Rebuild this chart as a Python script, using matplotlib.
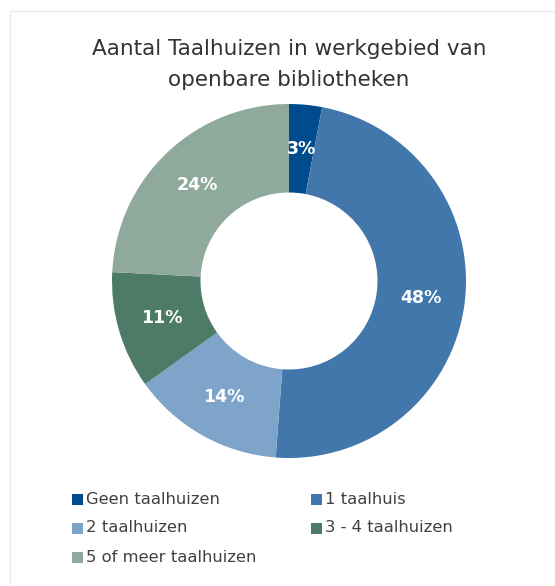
import matplotlib
matplotlib.use("Agg")
import matplotlib.pyplot as plt
from matplotlib.patches import Rectangle

# Aantal Taalhuizen in werkgebied van openbare bibliotheken
categories = ['Geen taalhuizen', '1 taalhuis', '2 taalhuizen', '3 - 4 taalhuizen', '5 of meer taalhuizen']
shares = [3.0, 48.2, 13.9, 10.7, 24.2]
colors = ['#004B8D', '#4177AB', '#7FA4C9', '#4E7B67', '#8FA99D']

W, H = 555, 586
fig = plt.figure(figsize=(W / 100, H / 100), dpi=100)
fig.patch.set_facecolor('white')

# faint frame round the chart
fig.patches.append(Rectangle((10 / W, -0.05), 1.1, (H - 11) / H + 0.05, transform=fig.transFigure,
                             fill=False, edgecolor='#ececec', linewidth=1))

cx, cy, R = 289, 281, 177
ax = fig.add_axes([(cx - R) / W, (H - cy - R) / H, 2 * R / W, 2 * R / H])

wedges, texts, autotexts = ax.pie(
    shares, colors=colors, startangle=90, counterclock=False,
    radius=1.0, wedgeprops=dict(width=0.5, edgecolor='none'),
    autopct=lambda p: f'{p:.0f}%', pctdistance=0.75,
    textprops=dict(color='white', fontsize=12.5, fontweight='bold'))
ax.set_xlim(-1, 1)
ax.set_ylim(-1, 1)
ax.set_aspect('equal')
ax.axis('off')

fig.text(289 / W, 1 - 49 / H, 'Aantal Taalhuizen in werkgebied van', ha='center', va='center',
         fontsize=15.5, color='#333333')
fig.text(289 / W, 1 - 80 / H, 'openbare bibliotheken', ha='center', va='center',
         fontsize=15.5, color='#333333')

# legend, two columns
rows = [499, 528, 557]
cols = [72, 311]
for i, (name, col) in enumerate(zip(categories, colors)):
    x = cols[i % 2]
    y = rows[i // 2]
    fig.patches.append(Rectangle((x / W, 1 - (y + 5.5) / H), 11 / W, 11 / H,
                                 transform=fig.transFigure, facecolor=col, edgecolor='none'))
    fig.text((x + 14) / W, 1 - y / H, name, ha='left', va='center', fontsize=11.8, color='#404040')

fig.savefig('out.png', dpi=100, facecolor='white')
